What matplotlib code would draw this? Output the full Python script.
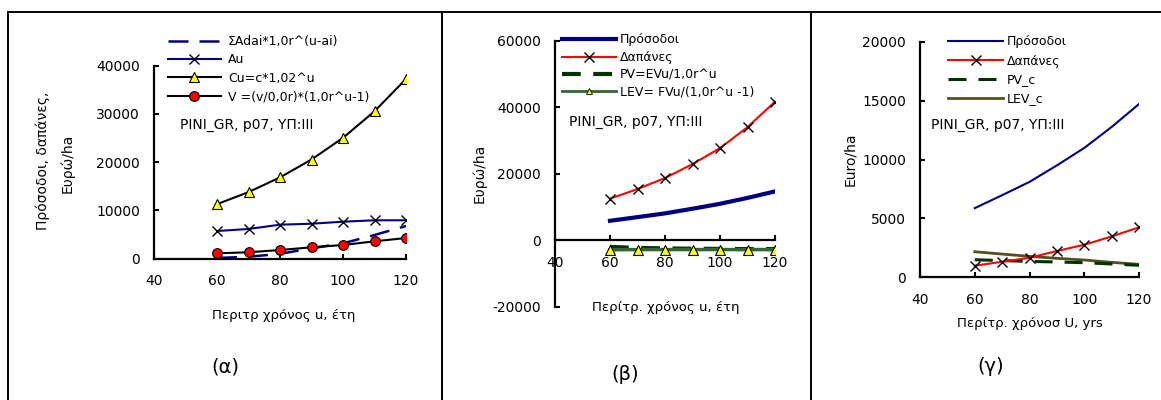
import matplotlib
matplotlib.use("Agg")
import matplotlib.pyplot as plt
from matplotlib.lines import Line2D

W, H = 1161, 400

# Ηλικία περιτροπής u (έτη)
u = [60, 70, 80, 90, 100, 110, 120]

# (α) πρόσοδοι / δαπάνες
a_sum_adai = [150, 410, 1000, 2150, 3190, 4910, 6780]
a_au = [5740, 6160, 7050, 7250, 7670, 7960, 7960]
a_cu = [11300, 13800, 16850, 20550, 25050, 30550, 37250]
a_v = [1120, 1330, 1800, 2360, 2840, 3600, 4290]

# (β)
b_income = [5870, 6970, 8100, 9500, 10980, 12760, 14710]
b_cost = [12520, 15430, 18740, 22940, 27750, 34050, 41740]
b_pv = [-2000, -2300, -2450, -2550, -2600, -2650, -2650]
b_lev = [-2850, -2800, -2800, -2800, -2800, -2800, -2800]

# (γ)
c_income = [5870, 6970, 8100, 9500, 10980, 12760, 14710]
c_cost = [985, 1320, 1660, 2230, 2760, 3470, 4240]
c_pv = [1490, 1420, 1350, 1300, 1240, 1130, 1020]
c_lev = [2170, 1970, 1780, 1610, 1470, 1270, 1100]

NAVY = "#000080"
RED = "#FF0000"
YELLOW = "#FFFF00"
DKGREEN = "#003300"
GREEN = "#336633"
OLIVE = "#505020"

plt.rcParams.update({
    "font.family": "DejaVu Sans",
    "font.size": 10,
    "axes.unicode_minus": False,
})

fig = plt.figure(figsize=(W / 100, H / 100), dpi=100)


def px_axes(x0, x1, y_top, y_bot):
    return fig.add_axes([x0 / W, 1 - y_bot / H, (x1 - x0) / W, (y_bot - y_top) / H])


def fx(x):
    return x / W


def fy(y):
    return 1 - y / H


def style(ax):
    for s in ["top", "right"]:
        ax.spines[s].set_visible(False)
    for s in ["left", "bottom"]:
        ax.spines[s].set_linewidth(1.6)
    ax.tick_params(direction="in", length=3.5, width=1.5, labelsize=10, pad=10)
    ax.tick_params(axis="x", pad=11)


def legend(handles, x, y, spacing, hl, pad):
    fig.legend(handles=handles, loc="upper left", bbox_to_anchor=(fx(x), fy(y)),
               frameon=False, fontsize=9, borderpad=0, borderaxespad=0,
               labelspacing=spacing, handlelength=hl, handletextpad=pad, numpoints=1)


# ---------- (α) ----------
ax = px_axes(154, 406, 65.7, 258.7)
ax.plot(u, a_sum_adai, color=NAVY, lw=1.8, dashes=(8, 4.4))
ax.plot(u, a_au, color=NAVY, lw=1.5, marker="x", ms=7, mec="black", mew=1)
ax.plot(u, a_cu, color="black", lw=1.5, marker="^", ms=7, mfc=YELLOW, mec="black", mew=0.8)
ax.plot(u, a_v, color="black", lw=1.5, marker="o", ms=7, mfc=RED, mec="black", mew=0.8)
ax.set_xlim(40, 120)
ax.set_ylim(0, 40000)
ax.set_xticks([40, 60, 80, 100, 120])
ax.set_yticks([0, 10000, 20000, 30000, 40000])
style(ax)
legend([
    Line2D([], [], color=NAVY, lw=1.8, dashes=(8, 4.4), label="ΣAdai*1,0r^(u-ai)"),
    Line2D([], [], color=NAVY, lw=1.5, marker="x", ms=7, mec="black", label="Au"),
    Line2D([], [], color="black", lw=1.5, marker="^", ms=7, mfc=YELLOW, mec="black", mew=0.8,
           label="Cu=c*1,02^u"),
    Line2D([], [], color="black", lw=1.5, marker="o", ms=7, mfc=RED, mec="black", mew=0.8,
           label="V =(v/0,0r)*(1,0r^u-1)"),
], 168, 35, 0.43, 4.2, 0.6)
fig.text(fx(180), fy(125), "PINI_GR, p07, ΥΠ:ΙΙΙ", fontsize=10, va="center", ha="left")
fig.text(fx(43), fy(161), "Πρόσοδοι, δαπάνες,", rotation=90, fontsize=10, va="center", ha="center")
fig.text(fx(67), fy(163), "Ευρώ/ha", rotation=90, fontsize=10, va="center", ha="center")
fig.text(fx(284), fy(315), "Περιτρ χρόνος u, έτη", fontsize=9.5, va="center", ha="center")
fig.text(fx(225), fy(367), "(α)", fontsize=14, va="center", ha="center")

# ---------- (β) ----------
ax = px_axes(555, 775, 41, 306.7)
ax.plot(u, b_income, color=NAVY, lw=3)
ax.plot(u, b_cost, color=RED, lw=1.5, marker="x", ms=7, mec="black", mew=1)
ax.plot(u, b_pv, color=DKGREEN, lw=3, dashes=(4.5, 3))
ax.plot(u, b_lev, color=GREEN, lw=2.5, marker="^", ms=7, mfc=YELLOW, mec="black", mew=0.8)
ax.set_xlim(40, 120)
ax.set_ylim(-20000, 60000)
ax.set_xticks([40, 60, 80, 100, 120])
ax.set_yticks([-20000, 0, 20000, 40000, 60000])
style(ax)
ax.spines["bottom"].set_position(("data", 0))
ax.set_ylabel("Ευρώ/ha", fontsize=10, labelpad=4)
legend([
    Line2D([], [], color=NAVY, lw=3, label="Πρόσοδοι"),
    Line2D([], [], color=RED, lw=1.5, marker="x", ms=7, mec="black", label="Δαπάνες"),
    Line2D([], [], color=DKGREEN, lw=3, dashes=(4.5, 3), label="PV=EVu/1,0r^u"),
    Line2D([], [], color=GREEN, lw=2, marker="^", ms=5, mfc=YELLOW, mec="black", mew=0.6,
           label="LEV= FVu/(1,0r^u -1)"),
], 562, 33.5, 0.35, 4.3, 0.3)
fig.text(fx(569), fy(122), "PINI_GR, p07, ΥΠ:ΙΙΙ", fontsize=10, va="center", ha="left")
fig.text(fx(666), fy(307), "Περίτρ. χρόνος u, έτη", fontsize=9.5, va="center", ha="center")
fig.text(fx(625), fy(375), "(β)", fontsize=14, va="center", ha="center")

# ---------- (γ) ----------
ax = px_axes(920, 1139, 41.7, 277.3)
ax.plot(u, c_income, color=NAVY, lw=1.5)
ax.plot(u, c_lev, color=OLIVE, lw=2)
ax.plot(u, c_pv, color=DKGREEN, lw=2.2, dashes=(5.9, 3.9))
ax.plot(u, c_cost, color=RED, lw=1.5, marker="x", ms=7, mec="black", mew=1)
ax.set_xlim(40, 120)
ax.set_ylim(0, 20000)
ax.set_xticks([40, 60, 80, 100, 120])
ax.set_yticks([0, 5000, 10000, 15000, 20000])
style(ax)
ax.set_ylabel("Euro/ha", fontsize=10, labelpad=4)
legend([
    Line2D([], [], color=NAVY, lw=1.5, label="Πρόσοδοι"),
    Line2D([], [], color=RED, lw=1.5, marker="x", ms=7, mec="black", label="Δαπάνες"),
    Line2D([], [], color=DKGREEN, lw=2.2, dashes=(5.9, 3.9), label="PV_c"),
    Line2D([], [], color=OLIVE, lw=2, label="LEV_c"),
], 948, 35.5, 0.48, 4.4, 0.3)
fig.text(fx(931), fy(125), "PINI_GR, p07, ΥΠ:ΙΙΙ", fontsize=10, va="center", ha="left")
fig.text(fx(1030), fy(323), "Περίτρ. χρόνοσ U, yrs", fontsize=9.5, va="center", ha="center")
fig.text(fx(991), fy(367), "(γ)", fontsize=14, va="center", ha="center")

# table borders
for xs, ys in [((8, 1160), (12, 12)), ((8, 8), (12, 400)),
               ((442, 442), (12, 400)), ((811, 811), (12, 400))]:
    fig.add_artist(Line2D([fx(x) for x in xs], [fy(y) for y in ys],
                          color="black", lw=1.4))

fig.savefig("out.png", dpi=100, facecolor="white")
